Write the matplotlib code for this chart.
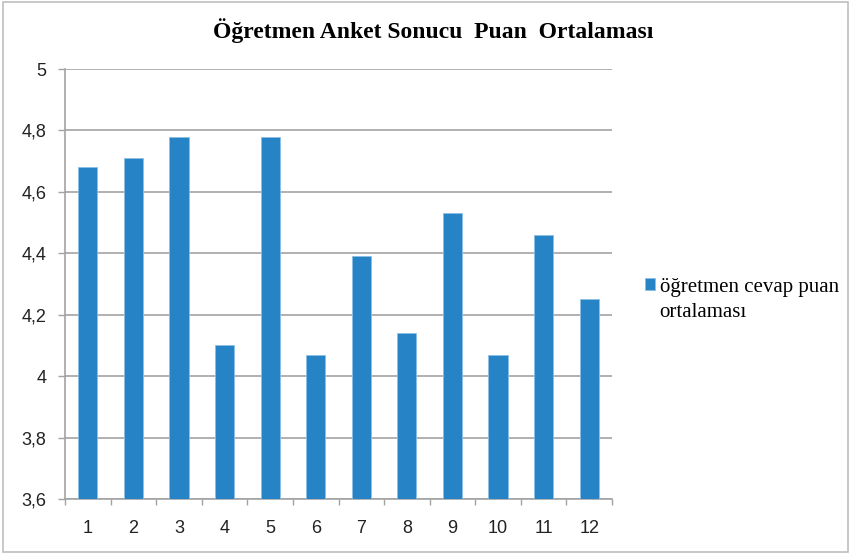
import matplotlib.pyplot as plt
import matplotlib.patches as mpatches
import numpy as np

# --- Data ---
categories = ['1', '2', '3', '4', '5', '6', '7', '8', '9', '10', '11', '12']
puan_ortalamasi = [4.68, 4.71, 4.78, 4.10, 4.78, 4.07, 4.39, 4.14, 4.53, 4.07, 4.46, 4.25]
y_ticks = [3.6, 3.8, 4.0, 4.2, 4.4, 4.6, 4.8, 5.0]
y_tick_labels = ['3,6', '3,8', '4', '4,2', '4,4', '4,6', '4,8', '5']

TITLE = 'Öğretmen Anket Sonucu  Puan  Ortalaması'
SERIES_LABEL = 'öğretmen cevap puan\nortalaması'
BAR_COLOR = '#2683C6'
GRID_COLOR = '#A3A3A3'

fig = plt.figure(figsize=(8.51, 5.54), dpi=100)
ax = fig.add_axes([65 / 851, 55 / 554, (612 - 65) / 851, (499 - 69) / 554])

x = np.arange(len(categories))
ax.bar(x, puan_ortalamasi, width=0.42, color=BAR_COLOR, edgecolor='#8DBFE6',
       linewidth=0.6, zorder=3, label=SERIES_LABEL)

ax.set_xlim(-0.5, len(categories) - 0.5)
ax.set_ylim(3.6, 5.0)
ax.set_yticks(y_ticks)
ax.set_yticklabels(y_tick_labels, fontfamily='Liberation Sans', fontsize=13, color='#222222')
ax.set_xticks(x)
ax.set_xticklabels(categories, fontfamily='Liberation Sans', fontsize=13, color='#222222')
ax.tick_params(axis='x', length=0, pad=15)
ax.tick_params(axis='y', length=5, width=1, color=GRID_COLOR, pad=8.5)

# tick marks between categories on the x axis
ax.set_xticks(np.arange(-0.5, len(categories)), minor=True)
ax.tick_params(axis='x', which='minor', length=4.5, width=1, color=GRID_COLOR)

ax.yaxis.grid(True, color=GRID_COLOR, linewidth=1.2, zorder=0)
ax.set_axisbelow(True)
for side in ['top', 'right']:
    ax.spines[side].set_visible(False)
ax.spines['left'].set_color(GRID_COLOR)
ax.spines['bottom'].set_color(GRID_COLOR)
ax.spines['left'].set_linewidth(1.2)
ax.spines['bottom'].set_linewidth(1.2)

fig.text(433 / 851, 1 - 31 / 554, TITLE, ha='center', va='center',
         fontfamily='Liberation Serif', fontweight='bold', fontsize=17)

leg = fig.legend(loc='center left', bbox_to_anchor=(645 / 851, 1 - 300 / 554),
                 frameon=False, borderpad=0, borderaxespad=0,
                 prop={'family': 'Liberation Serif', 'size': 15},
                 handlelength=0.5, handleheight=0.5, handletextpad=0.2)
for t in leg.get_texts():
    t.set_linespacing(1.4)
# Excel puts the marker next to the first line of the label
handle = leg.legend_handles[0]
handle.set_y(handle.get_y() + 11)

# light grey frame around the whole chart
fig.patches.append(mpatches.Rectangle((0.004, 0.004), 0.992, 0.992, transform=fig.transFigure,
                                      fill=False, edgecolor='#BFBFBF', linewidth=1.2))

fig.savefig('out.png', dpi=100)
